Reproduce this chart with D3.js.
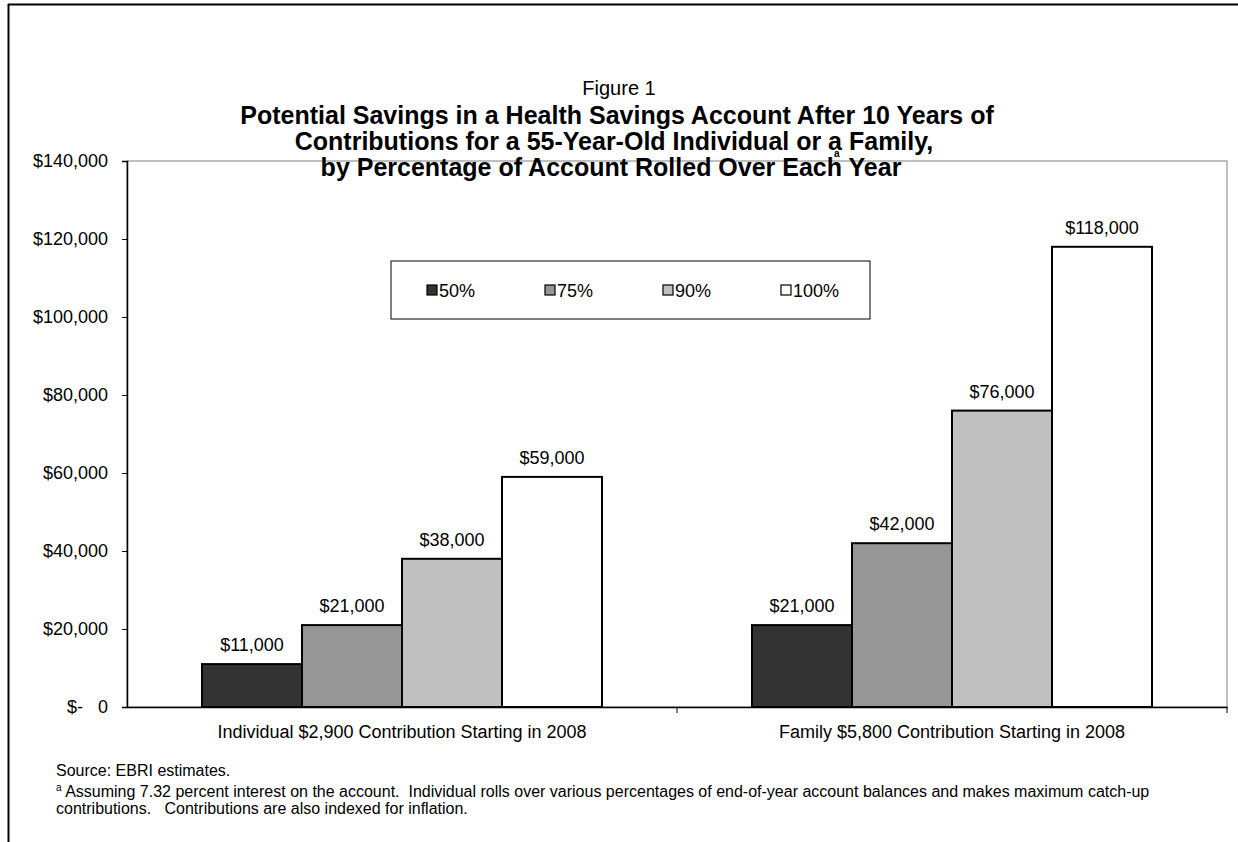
<!DOCTYPE html>
<html>
<head>
<meta charset="utf-8">
<script src="https://cdn.jsdelivr.net/npm/d3@7"></script>
<style>
  body { margin: 0; background: #fff; }
  svg text { font-family: "Liberation Sans", Arial, sans-serif; white-space: pre; }
</style>
</head>
<body>
<div id="chart"></div>
<script>
var categories = ["Individual $2,900 Contribution Starting in 2008", "Family $5,800 Contribution Starting in 2008"];
var seriesNames = ["50%", "75%", "90%", "100%"];
var values50 = [11000, 21000];
var values75 = [21000, 42000];
var values90 = [38000, 76000];
var values100 = [59000, 118000];
var yTicks = [0, 20000, 40000, 60000, 80000, 100000, 120000, 140000];
var colors = ["#333333", "#969696", "#c0c0c0", "#ffffff"];

var allSeries = [values50, values75, values90, values100];

var width = 1238, height = 842;
var plot = { left: 127, top: 161, right: 1227, bottom: 707 };

var svg = d3.select("#chart").append("svg")
  .attr("width", width)
  .attr("height", height);

// outer frame (top + left only visible)
svg.append("line").attr("x1", 8).attr("x2", width).attr("y1", 4.5).attr("y2", 4.5)
  .attr("stroke", "#000").attr("stroke-width", 2);
svg.append("line").attr("x1", 8.5).attr("x2", 8.5).attr("y1", 4).attr("y2", height)
  .attr("stroke", "#000").attr("stroke-width", 2);

var x0 = d3.scaleBand().domain(categories).range([plot.left, plot.right]);
var x1 = d3.scaleBand().domain(seriesNames).range([0, 400]);
var y = d3.scaleLinear().domain([0, 140000]).range([plot.bottom, plot.top]);

// plot area border
svg.append("rect").attr("x", plot.left).attr("y", plot.top)
  .attr("width", plot.right - plot.left).attr("height", plot.bottom - plot.top)
  .attr("fill", "none").attr("stroke", "#808080").attr("stroke-width", 1);

// titles
svg.append("text").attr("x", 619).attr("y", 95).attr("text-anchor", "middle")
  .attr("font-size", 20).text("Figure 1");
var titleLines = [
  "Potential Savings in a Health Savings Account After 10 Years of",
  "Contributions for a 55-Year-Old Individual or a Family,",
  "by Percentage of Account Rolled Over Each Year"
];
titleLines.forEach(function (t, i) {
  svg.append("text").attr("x", 617 - i * 3).attr("y", 124 + i * 26).attr("text-anchor", "middle")
    .attr("font-size", 25).attr("font-weight", "bold").text(t);
});
svg.append("text").attr("x", 834).attr("y", 157).attr("font-size", 10)
  .attr("font-weight", "bold").text("a");

// bars
var groups = svg.selectAll("g.cat").data(categories).enter().append("g")
  .attr("class", "cat")
  .attr("transform", function (d) { return "translate(" + (x0(d) + x0.bandwidth() / 2 - 200) + ",0)"; });

groups.each(function (cat, ci) {
  var g = d3.select(this);
  seriesNames.forEach(function (s, si) {
    var v = allSeries[si][ci];
    g.append("rect")
      .attr("x", x1(s))
      .attr("y", y(v))
      .attr("width", x1.bandwidth())
      .attr("height", y(0) - y(v))
      .attr("fill", colors[si])
      .attr("stroke", "#000")
      .attr("stroke-width", 2);
    g.append("text")
      .attr("x", x1(s) + x1.bandwidth() / 2)
      .attr("y", y(v) - 13)
      .attr("text-anchor", "middle")
      .attr("font-size", 18)
      .text("$" + d3.format(",")(v));
  });
});

// y axis
var yAxis = d3.axisLeft(y).tickValues(yTicks).tickSize(5).tickPadding(14)
  .tickFormat(function (d) { return d === 0 ? "$-   0" : "$" + d3.format(",")(d); });
var gy = svg.append("g").attr("transform", "translate(" + plot.left + ",0)").call(yAxis);
gy.select(".domain").attr("stroke", "#000").attr("stroke-width", 1.5);
gy.selectAll("text").attr("font-size", 18).attr("fill", "#000")
  .style("font-family", '"Liberation Sans", Arial, sans-serif');

// x axis
var xAxis = d3.axisBottom(x0).tickSize(0).tickPadding(18);
var gx = svg.append("g").attr("transform", "translate(0," + plot.bottom + ")").call(xAxis);
gx.select(".domain").attr("stroke", "#000").attr("stroke-width", 1.5);
gx.selectAll("text").attr("font-size", 18).attr("fill", "#000")
  .style("font-family", '"Liberation Sans", Arial, sans-serif');
// category separators
categories.forEach(function (c) {
  svg.append("line").attr("x1", x0(c) + x0.bandwidth()).attr("x2", x0(c) + x0.bandwidth())
    .attr("y1", plot.bottom).attr("y2", plot.bottom + 6).attr("stroke", "#000");
});

// legend
var legend = svg.append("g");
legend.append("rect").attr("x", 391).attr("y", 261).attr("width", 479).attr("height", 58)
  .attr("fill", "#fff").attr("stroke", "#000").attr("stroke-width", 1);
seriesNames.forEach(function (s, i) {
  var lx = 427 + i * 118;
  legend.append("rect").attr("x", lx).attr("y", 285).attr("width", 10).attr("height", 10)
    .attr("fill", colors[i]).attr("stroke", "#000").attr("stroke-width", 1.2);
  legend.append("text").attr("x", lx + 12).attr("y", 297).attr("font-size", 18).text(s);
});

// notes
svg.append("text").attr("x", 56).attr("y", 776).attr("font-size", 16).text("Source: EBRI estimates.");
var fn = svg.append("text").attr("x", 56).attr("y", 797).attr("font-size", 16);
fn.append("tspan").attr("font-size", 10).attr("dy", -6).text("a");
fn.append("tspan").attr("dy", 6).text(" Assuming 7.32 percent interest on the account.  Individual rolls over various percentages of end-of-year account balances and makes maximum catch-up");
svg.append("text").attr("x", 56).attr("y", 814).attr("font-size", 16)
  .text("contributions.   Contributions are also indexed for inflation.");
</script>
</body>
</html>
